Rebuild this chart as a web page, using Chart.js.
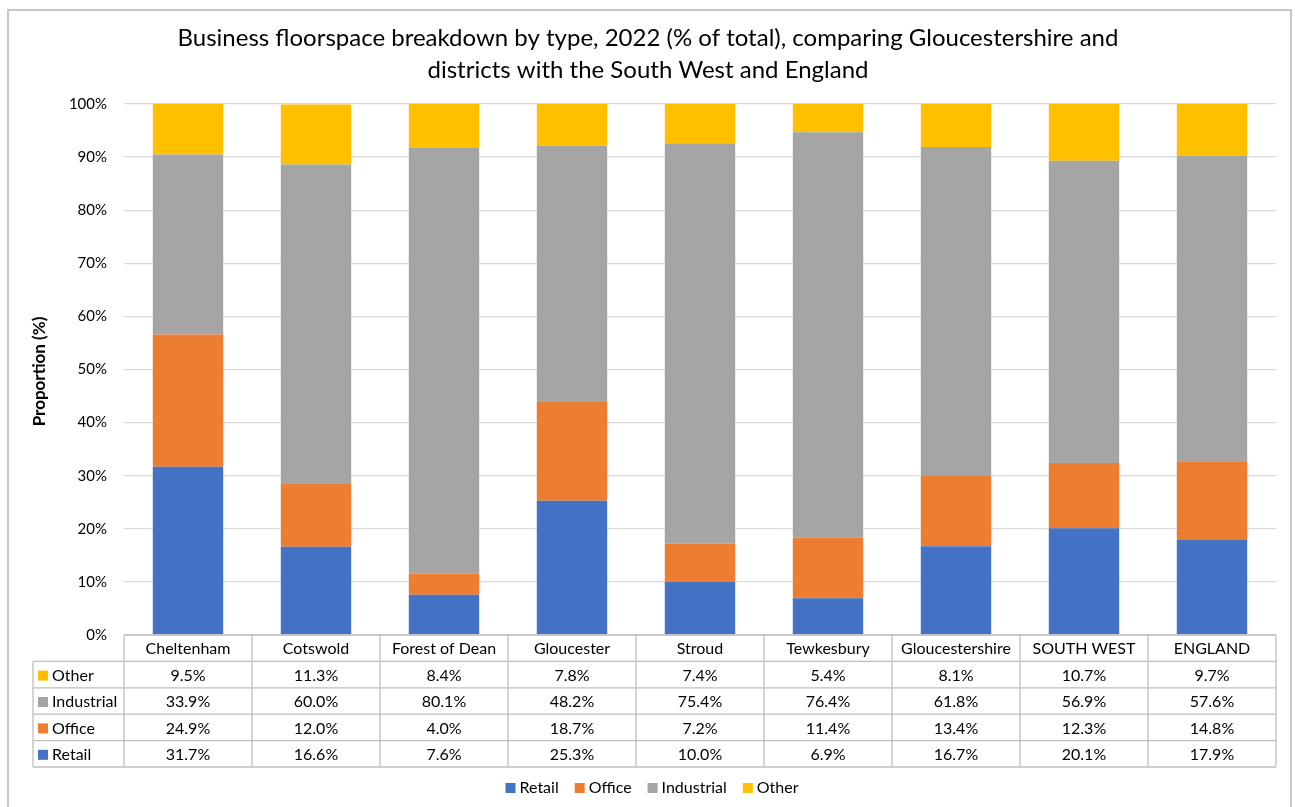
<!DOCTYPE html>
<html>
<head>
<meta charset="utf-8">
<script src="https://cdn.jsdelivr.net/npm/chart.js@4/dist/chart.umd.min.js"></script>
<style>
  html, body { margin: 0; padding: 0; background: #fff; }
  #wrap { width: 1295px; height: 807px; position: relative; }
</style>
</head>
<body>
<div id="wrap"><canvas id="floorChart"></canvas></div>
<script>
  /* ── Data ── */
  const AREAS = ['Cheltenham', 'Cotswold', 'Forest of Dean', 'Gloucester', 'Stroud',
                 'Tewkesbury', 'Gloucestershire', 'SOUTH WEST', 'ENGLAND'];
  const RETAIL     = [31.7, 16.6, 7.6, 25.3, 10.0, 6.9, 16.7, 20.1, 17.9];
  const OFFICE     = [24.9, 12.0, 4.0, 18.7, 7.2, 11.4, 13.4, 12.3, 14.8];
  const INDUSTRIAL = [33.9, 60.0, 80.1, 48.2, 75.4, 76.4, 61.8, 56.9, 57.6];
  const OTHER      = [9.5, 11.3, 8.4, 7.8, 7.4, 5.4, 8.1, 10.7, 9.7];
  const Y_TICKS = [0, 10, 20, 30, 40, 50, 60, 70, 80, 90, 100];

  const TITLE_LINES = [
    'Business floorspace breakdown by type, 2022 (% of total), comparing Gloucestershire and',
    'districts with the South West and England'
  ];
  const FONT = "Lato, 'Open Sans', sans-serif";

  const series = [
    { label: 'Retail',     data: RETAIL,     color: '#4472C4' },
    { label: 'Office',     data: OFFICE,     color: '#ED7D31' },
    { label: 'Industrial', data: INDUSTRIAL, color: '#A5A5A5' },
    { label: 'Other',      data: OTHER,      color: '#FFC000' }
  ];

  /* ── Title, axis title, data table, legend and frame ── */
  const extras = {
    id: 'extras',
    afterDraw(chart) {
      const { ctx, chartArea } = chart;
      const xs = chart.scales.x;
      const colW = xs.width / AREAS.length;
      ctx.save();

      // frame
      ctx.strokeStyle = '#c8c8c8';
      ctx.lineWidth = 2;
      ctx.strokeRect(8, 10, 1283, 820);

      // title
      ctx.fillStyle = '#000';
      ctx.font = '24px ' + FONT;
      ctx.textAlign = 'center';
      ctx.textBaseline = 'middle';
      ctx.fillText(TITLE_LINES[0], 648, 38);
      ctx.fillText(TITLE_LINES[1], 648, 70);

      // y axis title
      ctx.save();
      ctx.translate(40, (chartArea.top + chartArea.bottom) / 2 + 2);
      ctx.rotate(-Math.PI / 2);
      ctx.font = 'bold 17px ' + FONT;
      ctx.fillText('Proportion (%)', 0, 0);
      ctx.restore();

      // data table
      const top = chartArea.bottom;
      const rowH = 26.4;
      const tLeft = 33;
      const rows = series.slice().reverse();
      ctx.strokeStyle = '#bfbfbf';
      ctx.lineWidth = 1.3;
      ctx.beginPath();
      ctx.moveTo(chartArea.left, top); ctx.lineTo(chartArea.right, top);
      for (let r = 1; r <= rows.length + 1; r++) {
        const y = top + r * rowH;
        ctx.moveTo(tLeft, y); ctx.lineTo(chartArea.right, y);
      }
      ctx.moveTo(tLeft, top + rowH); ctx.lineTo(tLeft, top + rowH * (rows.length + 1));
      for (let c = 0; c <= AREAS.length; c++) {
        const x = chartArea.left + c * colW;
        ctx.moveTo(x, top); ctx.lineTo(x, top + rowH * (rows.length + 1));
      }
      ctx.stroke();

      ctx.font = '16px ' + FONT;
      ctx.fillStyle = '#000';
      ctx.textAlign = 'center';
      AREAS.forEach((name, i) => {
        ctx.fillText(name, xs.getPixelForValue(i), top + rowH / 2 + 1);
      });
      rows.forEach((s, r) => {
        const yMid = top + rowH * (r + 1.5) + 1;
        ctx.fillStyle = s.color;
        ctx.fillRect(38, yMid - 5, 10, 10);
        ctx.fillStyle = '#000';
        ctx.textAlign = 'left';
        ctx.fillText(s.label, 52, yMid);
        ctx.textAlign = 'center';
        s.data.forEach((v, i) => {
          ctx.fillText(v.toFixed(1) + '%', xs.getPixelForValue(i), yMid);
        });
      });

      // legend
      ctx.font = '16px ' + FONT;
      ctx.textAlign = 'left';
      const gap = 16;
      const widths = series.map(s => 14 + ctx.measureText(s.label).width);
      const total = widths.reduce((a, b) => a + b, 0) + gap * (series.length - 1);
      let lx = 652 - total / 2;
      series.forEach((s, i) => {
        ctx.fillStyle = s.color;
        ctx.fillRect(lx, 783, 10, 10);
        ctx.fillStyle = '#000';
        ctx.fillText(s.label, lx + 14, 788);
        lx += widths[i] + gap;
      });

      ctx.restore();
    }
  };

  /* ── Chart ── */
  window.addEventListener('DOMContentLoaded', () => {
    const ctx = document.getElementById('floorChart').getContext('2d');
    new Chart(ctx, {
      type: 'bar',
      data: {
        labels: AREAS,
        datasets: series.map(s => ({
          label: s.label,
          data: s.data,
          backgroundColor: s.color,
          borderWidth: 0,
          categoryPercentage: 1,
          barPercentage: 0.55
        }))
      },
      options: {
        responsive: true,
        maintainAspectRatio: false,
        animation: false,
        layout: { padding: { left: 0, top: 104, right: 19, bottom: 172 } },
        plugins: {
          legend: { display: false },
          tooltip: { enabled: false }
        },
        scales: {
          x: {
            stacked: true,
            grid: { display: false },
            border: { display: false },
            ticks: { display: false },
            afterFit(scale) { scale.height = 0; }
          },
          y: {
            stacked: true,
            min: 0,
            max: 100,
            afterFit(scale) { scale.width = 124; },
            afterBuildTicks(scale) { scale.ticks = Y_TICKS.map(v => ({ value: v })); },
            grid: { color: '#d9d9d9', lineWidth: 1.3, drawTicks: false },
            border: { display: false },
            ticks: {
              padding: 17,
              color: '#000',
              font: { size: 15, family: FONT },
              callback: v => v + '%'
            }
          }
        }
      },
      plugins: [extras]
    });
  });
</script>
</body>
</html>
